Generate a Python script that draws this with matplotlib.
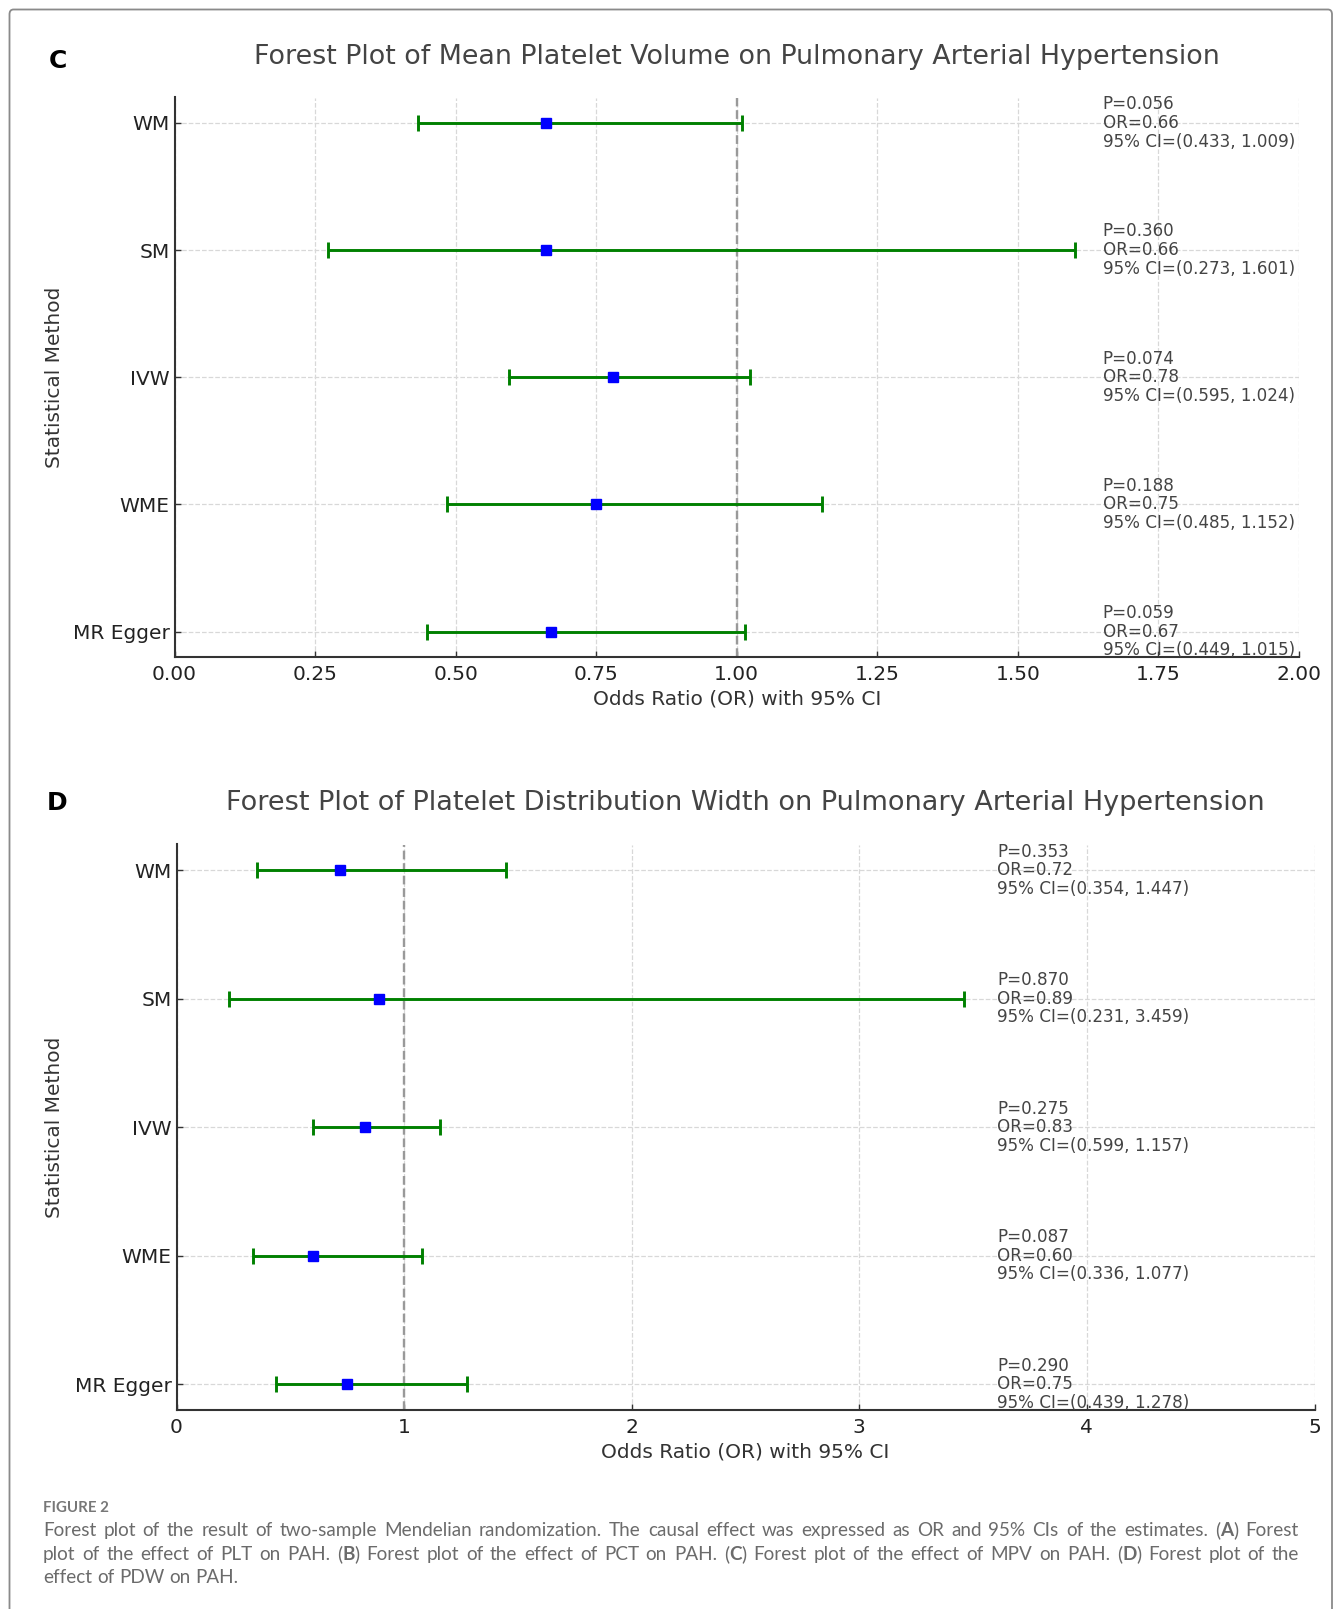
import re
import matplotlib
matplotlib.use("Agg")
import matplotlib.pyplot as plt
from matplotlib.patches import FancyBboxPatch
import numpy as np

# ---------------- data ----------------
methods = ["WM", "SM", "IVW", "WME", "MR Egger"]

mpv_or = [0.66, 0.66, 0.78, 0.75, 0.67]
mpv_lower = [0.433, 0.273, 0.595, 0.485, 0.449]
mpv_upper = [1.009, 1.601, 1.024, 1.152, 1.015]
mpv_p = [0.056, 0.360, 0.074, 0.188, 0.059]
mpv_xticks = [0.00, 0.25, 0.50, 0.75, 1.00, 1.25, 1.50, 1.75, 2.00]

pdw_or = [0.72, 0.89, 0.83, 0.60, 0.75]
pdw_lower = [0.354, 0.231, 0.599, 0.336, 0.439]
pdw_upper = [1.447, 3.459, 1.157, 1.077, 1.278]
pdw_p = [0.353, 0.870, 0.275, 0.087, 0.290]
pdw_xticks = [0, 1, 2, 3, 4, 5]

title_c = "Forest Plot of Mean Platelet Volume on Pulmonary Arterial Hypertension"
title_d = "Forest Plot of Platelet Distribution Width on Pulmonary Arterial Hypertension"
xlabel = "Odds Ratio (OR) with 95% CI"
ylabel = "Statistical Method"

caption_head = "FIGURE 2"
caption_lines = [
    "Forest plot of the result of two-sample Mendelian randomization. The causal effect was expressed as OR and 95% CIs of the estimates. (**A**) Forest",
    "plot of the effect of PLT on PAH. (**B**) Forest plot of the effect of PCT on PAH. (**C**) Forest plot of the effect of MPV on PAH. (**D**) Forest plot of the",
    "effect of PDW on PAH.",
]

# ---------------- layout ----------------
W, H = 1336, 1609
fig = plt.figure(figsize=(W / 100, H / 100), dpi=100)
fig.patch.set_facecolor("white")


def fx(px):
    return px / W


def fy(py):
    return 1 - py / H


def make_axes(rect_px):
    l, t, r, b = rect_px
    return fig.add_axes([fx(l), fy(b), fx(r) - fx(l), fy(t) - fy(b)])


def forest(ax, ors, lows, ups, ps, xticks, xfmt, ann_x):
    y = np.arange(len(methods))
    ors = np.array(ors)
    lows = np.array(lows)
    ups = np.array(ups)
    ax.set_axisbelow(True)
    ax.grid(True, linestyle="--", color="#d8d8d8", linewidth=0.9)
    ax.axvline(1.0, color="#999999", linestyle="--", linewidth=1.7, zorder=1.5)
    ax.errorbar(ors, y, xerr=[ors - lows, ups - ors], fmt="s", color="blue",
                markersize=7, ecolor="green", elinewidth=2.1, capsize=5.5,
                capthick=2.1, zorder=3)
    for yi, p, o, lo, up in zip(y, ps, ors, lows, ups):
        ax.text(ann_x, yi, f"P={p:.3f}\nOR={o:.2f}\n95% CI=({lo:.3f}, {up:.3f})",
                ha="left", va="center", fontsize=12.1, color="#444444",
                linespacing=1.05, zorder=4)
    ax.set_yticks(y)
    ax.set_yticklabels(methods)
    ax.set_ylim(len(methods) - 1 + 0.2, -0.2)
    ax.set_xticks(xticks)
    ax.set_xticklabels([xfmt.format(v) for v in xticks])
    ax.set_xlim(xticks[0], xticks[-1])
    for s in ["top", "right"]:
        ax.spines[s].set_visible(False)
    for s in ["left", "bottom"]:
        ax.spines[s].set_color("#333333")
        ax.spines[s].set_linewidth(1.5)
    ax.tick_params(direction="in", length=4.5, width=1, colors="#333333",
                   labelcolor="#222222", labelsize=14.5)
    ax.tick_params(axis="x", pad=5.5)
    ax.tick_params(axis="y", pad=3.5)


# Panel C
axc = make_axes((174.5, 97.5, 1299, 657))
forest(axc, mpv_or, mpv_lower, mpv_upper, mpv_p, mpv_xticks, "{:.2f}", 1.651)
fig.text(fx(737), fy(56.5), title_c, ha="center", va="center", fontsize=19.4, color="#444444")
fig.text(fx(57.5), fy(61.5), "C", ha="center", va="center", fontsize=18, fontweight="bold", color="black")
fig.text(fx(737), fy(698.5), xlabel, ha="center", va="center", fontsize=14.5, color="#333333")
fig.text(fx(54.5), fy(377.5), ylabel, ha="center", va="center", rotation=90, fontsize=14.5, color="#333333")

# Panel D
axd = make_axes((176.5, 844.5, 1314.5, 1410))
forest(axd, pdw_or, pdw_lower, pdw_upper, pdw_p, pdw_xticks, "{:d}", 3.605)
fig.text(fx(745.5), fy(802.5), title_d, ha="center", va="center", fontsize=19.5, color="#444444")
fig.text(fx(57.5), fy(802.5), "D", ha="center", va="center", fontsize=18, fontweight="bold", color="black")
fig.text(fx(745.5), fy(1452), xlabel, ha="center", va="center", fontsize=14.5, color="#333333")
fig.text(fx(54.5), fy(1127.5), ylabel, ha="center", va="center", rotation=90, fontsize=14.5, color="#333333")

# Border
border = FancyBboxPatch((fx(9.5), -0.05), fx(1332) - fx(9.5), fy(9.5) + 0.05,
                        boxstyle="round,pad=0,rounding_size=0.003",
                        transform=fig.transFigure, fill=False,
                        edgecolor="#8a8a8a", linewidth=1.3, zorder=0)
fig.patches.append(border)

# Caption
cap_family = ["Lato", "DejaVu Sans"]
cap_color = "#6b6b6b"
cap_size = 13.6
fig.text(fx(43), fy(1512), caption_head, ha="left", va="baseline", fontsize=10.8,
         fontweight="bold", color="#777777", family=cap_family)

renderer = fig.canvas.get_renderer()


def text_width(s, weight):
    t = fig.text(0, 0, s, fontsize=cap_size, fontweight=weight, family=cap_family)
    w = t.get_window_extent(renderer).width
    t.remove()
    return w


space_w = text_width("x x", "normal") - text_width("xx", "normal")


def parse_word(word):
    segs = []
    for part in re.split(r"(\*\*.*?\*\*)", word):
        if not part:
            continue
        if part.startswith("**"):
            segs.append((part[2:-2], "bold"))
        else:
            segs.append((part, "normal"))
    return segs


def draw_line(line, x0, x1, y, justify):
    words = [parse_word(w) for w in line.split(" ")]
    widths = []
    for segs in words:
        widths.append([text_width(s, wt) for s, wt in segs])
    total = sum(sum(w) for w in widths)
    gap = (x1 - x0 - total) / (len(words) - 1) if justify and len(words) > 1 else space_w
    x = x0
    for segs, ws in zip(words, widths):
        for (s, wt), w in zip(segs, ws):
            fig.text(fx(x), fy(y), s, ha="left", va="baseline", fontsize=cap_size,
                     fontweight=wt, family=cap_family, color=cap_color)
            x += w
        x += gap


cap_baselines = [1536, 1560, 1583]
for i, line in enumerate(caption_lines):
    draw_line(line, 43, 1299, cap_baselines[i], justify=(i < len(caption_lines) - 1))

fig.savefig("out.png", dpi=100, facecolor="white")
